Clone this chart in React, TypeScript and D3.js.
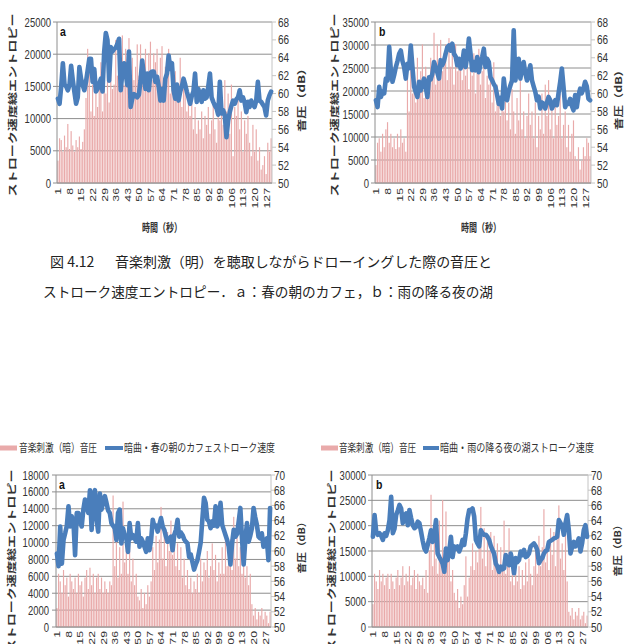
import React from 'react';
import * as d3 from 'd3';

// ---------- data ----------
const CATEGORIES: number[] = Array.from({ length: 130 }, (_, i) => i + 1);
const X_TICK_LABELS = [1, 8, 15, 22, 29, 36, 43, 50, 57, 64, 71, 78, 85, 92, 99, 106, 113, 120, 127];

// Fig 4.12 a : 春の朝のカフェ (entropy, left axis)
const TL_LINE = [
  13100, 12300, 15000, 18600, 15300, 15000, 14400, 15200, 18200, 16000,
  14100, 12300, 13300, 18000, 16200, 15200, 14400, 15700, 17500, 19300,
  19300, 15700, 17700, 14200, 14600, 15400, 16200, 14200, 20400, 23300,
  22200, 15900, 21100, 20400, 20800, 21000, 21600, 22400, 14400, 17100,
  18600, 17100, 15200, 20400, 11800, 13100, 13800, 13600, 13300, 13700,
  15900, 19000, 16800, 14600, 17000, 14400, 17100, 17300, 17300, 15700,
  16500, 15000, 12800, 14600, 12800, 16200, 17000, 19800, 17700, 18600,
  14400, 13100, 15300, 12800, 14200, 15000, 16200, 15300, 14200, 13300,
  12300, 13500, 14200, 17000, 12600, 14600, 13500, 12600, 14400, 13100,
  13300, 15000, 17000, 13300, 12600, 12000, 11600, 10600, 15700, 10800,
  11300, 10500, 7100, 9700, 11000, 12000, 12800, 12300, 13000, 13300,
  14400, 12800, 13300, 12500, 11000, 12600, 11800, 12800, 12200, 11800,
  12800, 15700, 12800, 12600, 12200, 11800, 10500, 12800, 13600, 14200,
];
// sound pressure (dB, right axis)
const TL_BARS = [
  52.5, 55.0, 54.8, 53.5, 55.3, 54.0, 56.6, 53.8, 55.8, 54.2,
  53.5, 54.8, 54.0, 55.2, 53.8, 54.6, 56.0, 59.5, 65.0, 63.0,
  58.0, 61.0, 57.5, 62.5, 58.5, 61.5, 63.5, 58.0, 65.2, 60.0,
  62.0, 59.0, 64.5, 60.5, 61.0, 66.0, 62.0, 64.0, 60.5, 66.5,
  61.0, 65.0, 62.5, 66.2, 60.0, 64.0, 61.5, 63.0, 65.5, 62.0,
  65.5, 63.0, 61.0, 65.0, 62.0, 64.5, 65.8, 61.5, 64.5, 63.5,
  65.0, 60.5, 64.0, 65.3, 61.0, 63.0, 62.0, 65.0, 60.0, 63.5,
  61.0, 62.5, 59.5, 61.0, 64.0, 58.5, 60.5, 61.5, 58.0, 60.0,
  57.5, 59.0, 56.0, 58.5, 55.5, 57.0, 56.0, 58.0, 55.0, 57.5,
  56.5, 58.5, 55.5, 57.0, 59.0, 56.0, 54.5, 59.5, 57.0, 60.5,
  56.5, 61.5, 58.0, 60.0, 55.5, 61.0, 53.0, 58.5, 57.5, 60.0,
  56.0, 58.0, 53.5, 57.0, 55.5, 57.5, 54.5, 53.0, 56.5, 53.5,
  56.0, 52.5, 54.0, 51.5, 52.0, 53.0, 51.0, 54.5, 53.5, 55.0,
];

// Fig 4.12 b : 雨の降る夜の湖
const TR_LINE = [
  18000, 16500, 20900, 18700, 19800, 19500, 22700, 22300, 29600, 24500,
  22000, 23500, 25200, 26500, 28100, 28800, 26500, 25200, 22700, 25900,
  25000, 29900, 25200, 20900, 19800, 18700, 22000, 20100, 21500, 22700,
  20900, 18700, 23000, 22500, 23800, 26300, 25200, 24000, 22700, 26700,
  25600, 26500, 28100, 29500, 29900, 28800, 30300, 28100, 27500, 25600,
  27000, 24900, 26000, 28800, 25200, 27500, 31400, 28100, 24500, 26300,
  24500, 27400, 24100, 25800, 27400, 29200, 25200, 27000, 26300, 23000,
  22300, 21500, 20900, 19100, 17200, 18500, 16200, 22700, 19400, 18000,
  20000, 21200, 22300, 33200, 22300, 25200, 27000, 22700, 25000, 26300,
  23800, 22300, 24000, 25600, 22300, 21000, 19800, 18000, 18800, 16200,
  17500, 17200, 16200, 17500, 18700, 18000, 16200, 17000, 18000, 16900,
  19500, 22000, 24900, 20900, 16500, 17500, 17200, 18300, 16800, 15800,
  19100, 16500, 19000, 20500, 19500, 20500, 22000, 21000, 18300, 18000,
];
const TR_BARS = [
  52.0, 54.5, 55.0, 53.5, 55.5, 54.0, 56.0, 56.8, 54.5, 55.5,
  54.0, 55.0, 53.8, 55.5, 54.0, 56.0, 54.5, 55.0, 53.5, 62.0,
  58.0, 65.0, 60.0, 63.0, 59.0, 64.0, 61.0, 62.5, 65.5, 59.5,
  63.0, 60.5, 61.5, 64.0, 62.0, 66.8, 61.0, 65.5, 63.0, 66.0,
  62.5, 64.5, 65.5, 61.5, 66.2, 63.0, 64.5, 61.0, 65.5, 62.5,
  64.0, 63.0, 61.5, 65.0, 62.0, 64.0, 60.5, 63.5, 62.0, 64.5,
  60.0, 63.0, 65.0, 61.0, 62.5, 64.0, 59.5, 62.0, 61.0, 63.0,
  59.0, 63.5, 58.0, 61.0, 59.5, 57.5, 60.5, 58.0, 61.5, 57.0,
  59.0, 56.0, 60.5, 58.0, 55.5, 59.5, 57.0, 61.5, 56.0, 58.0,
  55.0, 57.5, 60.0, 56.5, 58.0, 55.0, 59.0, 54.0, 57.5, 56.0,
  60.0, 55.5, 61.0, 57.5, 61.5, 56.0, 59.0, 55.0, 58.5, 56.5,
  57.5, 60.0, 55.0, 56.5, 58.0, 54.0, 56.5, 53.5, 55.5, 57.0,
  53.0, 52.5, 54.0, 51.5, 52.5, 54.0, 53.0, 55.0, 54.5, 53.0,
];

// 暗曲・春の朝のカフェ
const BL_LINE = [
  8700, 7200, 11900, 7500, 10300, 11100, 12000, 14300, 11900, 13100,
  12500, 8500, 13500, 13500, 12500, 11900, 13900, 15100, 14200, 13500,
  16200, 11500, 15500, 16200, 12700, 11300, 15800, 13900, 14800, 15500,
  14700, 13800, 13500, 12300, 12000, 11700, 10300, 13500, 13900, 9900,
  11700, 10900, 10500, 8900, 12300, 10500, 10900, 10500, 10100, 12300,
  9500, 10500, 10100, 9500, 8900, 10500, 9100, 10300, 12700, 11900,
  12000, 11300, 12100, 12900, 11900, 11500, 10700, 10100, 10500, 10700,
  9100, 10900, 11500, 12700, 10700, 11200, 10900, 10400, 10100, 9900,
  8300, 8600, 7700, 6800, 7400, 7900, 8900, 10000, 12700, 15300,
  14700, 12700, 12500, 11700, 12500, 12000, 14300, 11900, 12400, 14700,
  12100, 11500, 10900, 10300, 9500, 7400, 9900, 11500, 10700, 11000,
  12500, 14100, 10500, 7400, 10300, 12300, 10100, 10800, 11700, 14100,
  13000, 12100, 10700, 10500, 11100, 9500, 10000, 10500, 7900, 14100,
];
const BL_BARS = [
  52.5, 57.0, 56.0, 54.5, 57.5, 55.5, 56.5, 54.0, 57.0, 56.0,
  55.0, 56.5, 54.5, 57.0, 55.5, 56.0, 54.0, 56.5, 57.5, 55.0,
  57.8, 55.5, 57.0, 54.5, 56.5, 57.0, 55.0, 56.5, 54.5, 56.0,
  55.0, 54.5, 56.0, 55.5, 67.3, 58.0, 62.0, 56.5, 60.5, 57.0,
  66.5, 58.5, 61.0, 57.0, 63.5, 56.0, 59.0, 55.5, 57.0, 54.0,
  53.5, 55.0, 52.5, 54.5, 53.0, 55.5, 54.0, 56.0, 60.5, 57.5,
  62.0, 58.5, 61.5, 65.8, 59.0, 63.0, 58.0, 62.5, 60.0, 64.0,
  59.5, 62.5, 58.0, 61.0, 57.5, 60.5, 56.5, 59.0, 55.5, 57.5,
  55.0, 56.5, 54.5, 56.0, 55.0, 57.0, 54.5, 59.0, 56.0, 58.5,
  57.5, 60.0, 56.5, 58.0, 61.0, 57.5, 59.5, 56.0, 58.5, 57.0,
  60.5, 57.0, 62.0, 58.0, 59.5, 61.5, 57.5, 64.5, 59.0, 62.0,
  58.0, 60.5, 57.0, 59.5, 56.5, 58.0, 55.5, 57.0, 53.0, 51.5,
  52.5, 51.0, 52.0, 51.5, 52.5, 51.0, 52.0, 51.5, 50.5, 52.0,
];

// 暗曲・雨の降る夜の湖
const BR_LINE = [
  17800, 22100, 18800, 18200, 18500, 18000, 17200, 18500, 18000, 19100,
  21100, 25700, 18500, 19400, 22100, 23000, 24100, 23400, 20500, 22000,
  22400, 20100, 23100, 21500, 20100, 19500, 19800, 20800, 20500, 18800,
  17000, 15500, 14900, 16200, 17500, 19100, 16800, 18500, 21100, 14500,
  13800, 13200, 12500, 10900, 15500, 13200, 15000, 17800, 13800, 15900,
  15500, 15900, 14900, 15800, 17200, 16200, 18500, 21400, 23100, 23000,
  23400, 21800, 17200, 16500, 15900, 19100, 18500, 18200, 18200, 17800,
  17200, 16000, 15200, 14500, 12500, 11900, 10900, 11900, 11400, 11600,
  14200, 12800, 12200, 14500, 13000, 10600, 13600, 12800, 13200, 14900,
  14200, 15200, 13800, 14000, 14500, 15900, 16200, 16500, 16000, 15200,
  12600, 13200, 13600, 14500, 15000, 15200, 16800, 17000, 17200, 17500,
  17600, 17800, 21100, 20500, 20100, 18200, 20500, 22100, 19100, 14500,
  15800, 16800, 15900, 16500, 17500, 14900, 16500, 19100, 20100, 17800,
];
const BR_BARS = [
  53.0, 57.0, 56.0, 55.0, 57.5, 56.0, 57.0, 55.5, 56.5, 57.0,
  55.0, 57.0, 56.0, 55.0, 56.5, 57.5, 55.5, 56.5, 58.0, 55.5,
  57.0, 56.0, 58.0, 55.5, 56.5, 57.5, 55.0, 57.0, 56.0, 55.5,
  56.5, 55.0, 57.5, 54.5, 60.0, 67.4, 58.0, 62.0, 59.0, 57.0,
  64.0, 58.5, 66.7, 57.5, 65.2, 59.0, 62.0, 56.0, 57.5, 54.5,
  53.5, 55.0, 52.5, 54.0, 53.0, 55.5, 59.3, 54.0, 56.5, 58.0,
  61.0, 57.5, 60.0, 58.5, 62.0, 65.8, 59.0, 63.0, 58.0, 61.5,
  60.0, 62.5, 57.5, 62.0, 59.0, 61.0, 57.0, 60.5, 58.0, 64.0,
  57.0, 59.5, 63.0, 56.0, 58.5, 55.5, 57.0, 56.0, 58.0, 55.0,
  57.5, 55.5, 58.5, 56.0, 59.0, 57.0, 55.5, 58.0, 60.5, 57.0,
  62.0, 58.0, 60.5, 65.5, 58.5, 61.0, 57.5, 63.0, 59.5, 62.5,
  58.0, 61.5, 66.0, 59.0, 61.0, 57.5, 64.0, 56.0, 52.0, 51.5,
  52.5, 51.0, 52.0, 51.5, 52.5, 51.0, 51.5, 52.0, 50.5, 51.5,
];

const LEFT_TITLE = 'ストローク速度総エントロピー';
const RIGHT_TITLE = '音圧（dB）';
const X_TITLE = '時間（秒）';
const LEGEND_BAR = '音楽刺激（暗）音圧';
const LEGEND_LINE_A = '暗曲・春の朝のカフェストローク速度';
const LEGEND_LINE_B = '暗曲・雨の降る夜の湖ストローク速度';
const CAPTION_NUM = '図 4.12';
const CAPTION_1 = '音楽刺激（明）を聴取しながらドローイングした際の音圧と';
const CAPTION_2 = 'ストローク速度エントロピー．ａ：春の朝のカフェ，ｂ：雨の降る夜の湖';

// ---------- style ----------
const SY = 1.3;
const NUM_FONT = "'Liberation Sans', Arial, sans-serif";
const JP_FONT = "'Noto Sans CJK JP', sans-serif";
const TXT = '#333';
const GRID = '#8e8e8e';
const BAR = '#e9aaaa';
const LINE = '#4a7ebb';

type ChartProps = {
  x0: number; x1: number; y0: number; y1: number;
  leftMax: number; leftStep: number;
  rightMin: number; rightMax: number; rightStep: number;
  line: number[]; bars: number[];
  letter: string; letterX: number; letterY: number;
  leftLabelRight: number; rightLabelX: number;
  leftTitle: [number, number, number];
  rightTitle: [number, number, number];
  xTitle?: [number, number, number];
  xLabelTop: number;
};

function Chart(p: ChartProps) {
  const cats = CATEGORIES.map(String);
  const x = d3.scaleBand<string>().domain(cats).range([p.x0, p.x1]).paddingInner(0.3).paddingOuter(0.2);
  const yL = d3.scaleLinear().domain([0, p.leftMax]).range([p.y1, p.y0]);
  const yR = d3.scaleLinear().domain([p.rightMin, p.rightMax]).range([p.y1, p.y0]);
  const leftTicks = d3.range(0, p.leftMax + 1, p.leftStep);
  const rightTicks = d3.range(p.rightMin, p.rightMax + 0.001, p.rightStep);
  const cx = (c: string) => (x(c) as number) + x.bandwidth() / 2;
  const lineGen = d3.line<number>().x((_, i) => cx(cats[i])).y((d) => yL(d));

  return (
    <g>
      {leftTicks.map((t) => (
        <line key={'g' + t} x1={p.x0} x2={p.x1} y1={yL(t)} y2={yL(t)} stroke={GRID} strokeWidth={1} />
      ))}
      {p.bars.map((v, i) => (
        <rect key={'b' + i} x={x(cats[i])} y={yR(v)} width={x.bandwidth()} height={p.y1 - yR(v)} fill={BAR} />
      ))}
      <line x1={p.x0} x2={p.x0} y1={p.y0} y2={p.y1} stroke={GRID} />
      <line x1={p.x1} x2={p.x1} y1={p.y0} y2={p.y1} stroke="#c4c4c4" />
      <line x1={p.x0} x2={p.x1} y1={p.y1} y2={p.y1} stroke={GRID} />
      {leftTicks.map((t) => (
        <line key={'lt' + t} x1={p.x0 - 4} x2={p.x0} y1={yL(t)} y2={yL(t)} stroke={GRID} />
      ))}
      {rightTicks.map((t) => (
        <line key={'rt' + t} x1={p.x1} x2={p.x1 + 4} y1={yR(t)} y2={yR(t)} stroke="#c4c4c4" />
      ))}
      <path d={lineGen(p.line) || ''} fill="none" stroke={LINE} strokeWidth={4.6} strokeLinejoin="round" strokeLinecap="round" />
      {leftTicks.map((t) => (
        <text key={'ll' + t} transform={`translate(${p.leftLabelRight},${yL(t) + 4.6}) scale(1,${SY})`}
          textAnchor="end" fontFamily={NUM_FONT} fontSize={9.5} fill={TXT}>{t}</text>
      ))}
      {rightTicks.map((t) => (
        <text key={'rl' + t} transform={`translate(${p.rightLabelX},${yR(t) + 4.6}) scale(1,${SY})`}
          textAnchor="start" fontFamily={NUM_FONT} fontSize={10} fill={TXT}>{t}</text>
      ))}
      {X_TICK_LABELS.map((t) => (
        <text key={'xl' + t} transform={`translate(${cx(String(t))},${p.xLabelTop}) rotate(-90) scale(${SY},1)`}
          y={3.4} textAnchor="end" fontFamily={NUM_FONT} fontSize={9.5} fill={TXT}>{t}</text>
      ))}
      <text transform={`translate(${p.letterX},${p.letterY}) scale(1,${SY})`} fontFamily={NUM_FONT}
        fontWeight="bold" fontSize={10.5} fill="#111">{p.letter}</text>
      <text transform={`translate(${p.leftTitle[0]},${p.leftTitle[1]}) rotate(-90)`} y={3.4}
        textAnchor="middle" fontFamily={JP_FONT} fontWeight="bold" fontSize={9.5} fill={TXT}
        textLength={p.leftTitle[2]} lengthAdjust="spacingAndGlyphs">{LEFT_TITLE}</text>
      <text transform={`translate(${p.rightTitle[0]},${p.rightTitle[1]}) rotate(-90)`} y={3.4}
        textAnchor="middle" fontFamily={JP_FONT} fontWeight="bold" fontSize={9.5} fill={TXT}
        textLength={p.rightTitle[2]} lengthAdjust="spacingAndGlyphs">{RIGHT_TITLE}</text>
      {p.xTitle && (
        <text transform={`translate(${p.xTitle[0]},${p.xTitle[1] + 4}) scale(1,${SY})`}
          textAnchor="middle" fontFamily={JP_FONT} fontWeight="bold" fontSize={9} fill={TXT}
          textLength={p.xTitle[2]} lengthAdjust="spacingAndGlyphs">{X_TITLE}</text>
      )}
    </g>
  );
}

function Legend({ barX0, barX1, barTextX, barTextLen, lineX0, lineX1, lineTextX, lineTextLen, label }: any) {
  const y = 448;
  return (
    <g>
      <rect x={barX0} y={y - 2.5} width={barX1 - barX0} height={5} fill={BAR} />
      <text transform={`translate(${barTextX},${y + 4}) scale(1,${SY})`} fontFamily={JP_FONT} fontSize={9}
        fill={TXT} textLength={barTextLen} lengthAdjust="spacingAndGlyphs">{LEGEND_BAR}</text>
      <line x1={lineX0} x2={lineX1} y1={y} y2={y} stroke={LINE} strokeWidth={4} />
      <text transform={`translate(${lineTextX},${y + 4}) scale(1,${SY})`} fontFamily={JP_FONT} fontSize={9}
        fill={TXT} textLength={lineTextLen} lengthAdjust="spacingAndGlyphs">{label}</text>
    </g>
  );
}

export default function App() {
  return (
    <svg width={633} height={644} viewBox="0 0 633 644"
      style={{ position: 'absolute', left: 0, top: 0, display: 'block', background: '#fff' }}>
      <rect x={0} y={0} width={633} height={644} fill="#fff" />
      <Chart x0={57} x1={272} y0={22} y1={183} leftMax={25000} leftStep={5000}
        rightMin={50} rightMax={68} rightStep={2} line={TL_LINE} bars={TL_BARS}
        letter="a" letterX={60} letterY={36} leftLabelRight={51} rightLabelX={278}
        leftTitle={[13, 105, 183]} rightTitle={[302, 97, 70]} xTitle={[162, 228, 40]} xLabelTop={188} />
      <Chart x0={375} x1={591} y0={22} y1={183} leftMax={35000} leftStep={5000}
        rightMin={50} rightMax={68} rightStep={2} line={TR_LINE} bars={TR_BARS}
        letter="b" letterX={379} letterY={36} leftLabelRight={369} rightLabelX={597}
        leftTitle={[335, 105, 183]} rightTitle={[619, 97, 66]} xTitle={[481, 228, 40]} xLabelTop={188} />

      <text x={50} y={267} fontFamily={JP_FONT} fontSize={14} fill="#222">{CAPTION_NUM}</text>
      <text x={115} y={267} fontFamily={JP_FONT} fontSize={14} fill="#222" textLength={377}
        lengthAdjust="spacingAndGlyphs">{CAPTION_1}</text>
      <text x={43} y={297} fontFamily={JP_FONT} fontSize={14} fill="#222" textLength={450}
        lengthAdjust="spacingAndGlyphs">{CAPTION_2}</text>

      <Legend barX0={0} barX1={17} barTextX={19} barTextLen={78} lineX0={105} lineX1={123}
        lineTextX={124} lineTextLen={151} label={LEGEND_LINE_A} />
      <Legend barX0={321} barX1={338} barTextX={339} barTextLen={77} lineX0={423} lineX1={439}
        lineTextX={440} lineTextLen={154} label={LEGEND_LINE_B} />

      <Chart x0={56} x1={271} y0={475} y1={627} leftMax={18000} leftStep={2000}
        rightMin={50} rightMax={70} rightStep={2} line={BL_LINE} bars={BL_BARS}
        letter="a" letterX={59} letterY={489} leftLabelRight={49} rightLabelX={274}
        leftTitle={[12, 561, 183]} rightTitle={[302, 545, 57]} xLabelTop={631} />
      <Chart x0={372} x1={588} y0={475} y1={627} leftMax={30000} leftStep={5000}
        rightMin={50} rightMax={70} rightStep={2} line={BR_LINE} bars={BR_BARS}
        letter="b" letterX={376} letterY={489} leftLabelRight={366} rightLabelX={591}
        leftTitle={[332, 561, 183]} rightTitle={[618, 548, 57]} xLabelTop={631} />
    </svg>
  );
}
